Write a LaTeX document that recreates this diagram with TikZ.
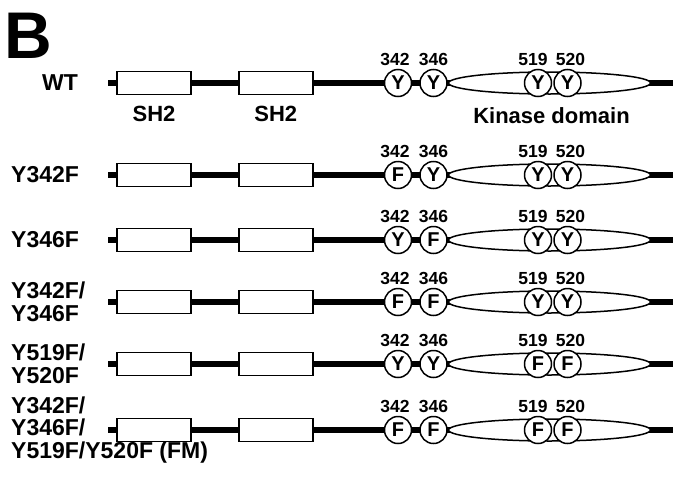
\documentclass[tikz,border=0pt]{standalone}
\usepackage{fontspec}
\setmainfont{Liberation Sans}
\usepackage{tikz}
\usetikzlibrary{positioning,shapes.geometric,backgrounds}
\tikzset{
  sh2/.style     = {rectangle, draw=black, line width=1.8pt, fill=white,
                    minimum width=74pt, minimum height=23pt, inner sep=0pt},
  kinase/.style  = {ellipse, draw=black, line width=1.5pt, fill=white,
                    minimum width=202pt, minimum height=22pt, inner sep=0pt},
  site/.style    = {circle, draw=black, line width=1.5pt, fill=white,
                    minimum size=27pt, inner sep=0pt,
                    font=\bfseries\fontsize{20}{20}\selectfont},
  num/.style     = {inner sep=0pt, font=\bfseries\fontsize{17.5}{17.5}\selectfont},
  rowlab/.style  = {anchor=west, align=left, inner sep=0pt,
                    font=\bfseries\fontsize{23}{22.7}\selectfont},
  domlab/.style  = {inner sep=0pt, font=\bfseries\fontsize{22}{22}\selectfont},
  backbone/.style= {line width=6pt},
}

\begin{document}
\begin{tikzpicture}[x=1pt, y=1pt]
    \useasboundingbox (0,0) rectangle (675,-485);
    \node[anchor=north west, inner sep=0pt,
          font=\bfseries\fontsize{66}{66}\selectfont] (panel) at (4,-13) {B};
    % one construct per row
    \foreach \r/\ypos/\lx/\name/\sa/\sb/\sc/\sd in {
        1/83/42/WT/Y/Y/Y/Y,
        2/175/11/Y342F/F/Y/Y/Y,
        3/240/11/Y346F/Y/F/Y/Y,
        4/302/11/{Y342F/\\Y346F}/F/F/Y/Y,
        5/364/11/{Y519F/\\Y520F}/Y/Y/F/F,
        6/430/11/{Y342F/\\Y346F/\\Y519F/Y520F (FM)}/F/F/F/F}{
      \node[rowlab] (lab\r) at (\lx,-\ypos) {\name};
      \coordinate (st\r) at (108,-\ypos);
      \coordinate (en\r) at (673,-\ypos);
      \node[sh2] (sha\r) at (154,-\ypos) {};
      \node[sh2, right=46pt of sha\r] (shb\r) {};
      \node[site] (ca\r) at (398,-\ypos) {\sa};
      \node[site, right=7pt of ca\r] (cb\r) {\sb};
      \node[kinase, right=0pt of cb\r] (kin\r) {};
      \node[site] (cc\r) at (538,-\ypos) {\sc};
      \node[site, right=1pt of cc\r] (cd\r) {\sd};
      \node[num, above=3pt of ca\r, xshift=-3pt] (na\r) {342};
      \node[num, above=3pt of cb\r] (nb\r) {346};
      \node[num, above=3pt of cc\r, xshift=-5pt] (nc\r) {519};
      \node[num, above=3pt of cd\r, xshift=3pt] (nd\r) {520};
      \begin{scope}[on background layer]
        \draw[backbone] (st\r) -- (en\r);
      \end{scope}
    }
    % domain names under WT
    \node[domlab, below=11pt of sha1] (dsha) {SH2};
    \node[domlab, below=11pt of shb1] (dshb) {SH2};
    \node[domlab, below=13pt of kin1, xshift=2pt] (dkin) {Kinase domain};
\end{tikzpicture}
\end{document}
